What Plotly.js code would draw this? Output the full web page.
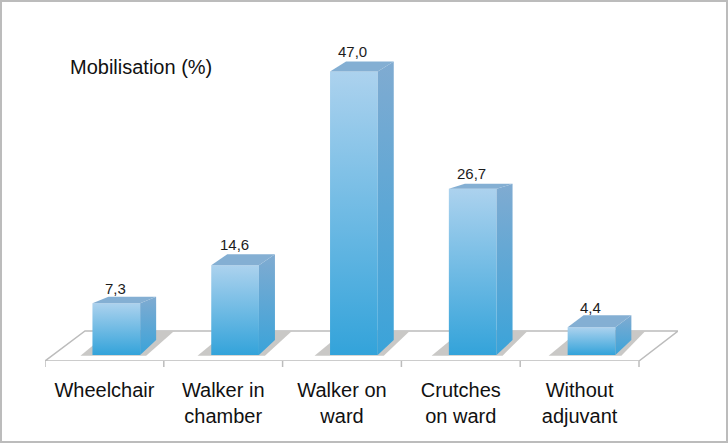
<!DOCTYPE html>
<html>
<head>
<meta charset="utf-8">
<script src="https://cdn.plot.ly/plotly-3.0.1.min.js"></script>
<style>
html,body{margin:0;padding:0;background:#fff;overflow:hidden}
#chart{width:728px;height:443px}
#frame{position:absolute;left:0;top:0;width:728px;height:443px;box-sizing:border-box;border:2px solid #bcbcbc;pointer-events:none}
</style>
</head>
<body>
<div id="chart"></div>
<div id="frame"></div>
<script>
// Data
const categories = ['Wheelchair', 'Walker in<br>chamber', 'Walker on<br>ward', 'Crutches<br>on ward', 'Without<br>adjuvant'];
const barHeights = [8.6, 14.9, 47.1, 27.6, 4.6];
const valueLabels = ['7,3', '14,6', '47,0', '26,7', '4,4'];

// Layout scale
const W = 728, H = 443;
const plotL = 45, plotR = 678, axisY = 361;
const catPx = 118.8;
const pxPerUnit = 6.02;
const baseY = 355;
const yMin = (baseY - axisY) / pxPerUnit;
const yMax = baseY / pxPerUnit;
const xMin = -0.5, xMax = xMin + (plotR - plotL) / catPx;
const ux = px => px / catPx;
const uy = px => px / pxPerUnit;

// Bar geometry (pixels)
const barW = 47.7, barOff = 11.9, depthX = 16, floorRise = 15;
const topRise = [6.5, 11, 10, 5, 12];
const offsetUnits = ux(barOff - barW / 2);

const traces = [];
const floorPath = (px) => {
  const X = p => xMin + (p - plotL) / catPx;
  const Y = p => (baseY - p) / pxPerUnit;
  return 'M' + px.map(p => X(p[0]) + ',' + Y(p[1])).join('L') + 'Z';
};
const shapes = [{
  type: 'path', xref: 'x', yref: 'y', layer: 'below',
  path: floorPath([[45, 361], [85, 331], [678, 331], [639, 361]]),
  fillcolor: '#ffffff', line: {color: '#bcbcbc', width: 1.5}
}];

categories.forEach((c, i) => {
  const left = i + offsetUnits, right = left + ux(barW);
  const bx = ux(depthX);
  const v = barHeights[i], tr = uy(topRise[i]), fr = uy(floorRise);
  // shadow on the floor
  const sx = -12 - 1.75 * i;
  shapes.push({
    type: 'path', xref: 'x', yref: 'y', layer: 'below', line: {width: 0},
    fillcolor: '#c9c8c6',
    path: 'M' + (left + ux(sx)) + ',' + uy(-0.7) +
          'L' + (right + ux(6)) + ',' + uy(-0.7) +
          'L' + (right + ux(34 - 1.0 * i)) + ',' + uy(24) +
          'L' + (left + ux(sx + 30)) + ',' + uy(24) + 'Z'
  });
  // side face
  traces.push({
    type: 'scatter', mode: 'none', fill: 'toself', hoverinfo: 'skip', showlegend: false,
    x: [right, right + bx, right + bx, right],
    y: [v, v + tr, fr, 0],
    fillgradient: {type: 'vertical', colorscale: [[0, '#3aa3d9'], [1, '#80abd1']]}
  });
  // top face
  traces.push({
    type: 'scatter', mode: 'none', fill: 'toself', hoverinfo: 'skip', showlegend: false,
    x: [left, left + bx, right + bx, right],
    y: [v, v + tr, v + tr, v],
    fillcolor: '#84afd3'
  });
});

// Front faces
traces.unshift({
  type: 'bar',
  x: categories.map((c, i) => i),
  y: barHeights,
  width: ux(barW),
  offset: offsetUnits,
  marker: {color: '#6fb4e0', line: {width: 0}},
  hoverinfo: 'skip',
  showlegend: false
});

const labelGap = [8, 9, 9, 10, 7];
const annotations = valueLabels.map((t, i) => ({
  x: i + offsetUnits + ux(barW / 2) - ux(1),
  y: barHeights[i] + uy(topRise[i]),
  yanchor: 'bottom', xanchor: 'center',
  yshift: labelGap[i] - 10, showarrow: false, text: t,
  font: {family: 'Liberation Sans, Arial, sans-serif', size: 15, color: '#1c1c1c'}
}));
annotations.push({
  xref: 'paper', yref: 'paper', x: (68 - plotL) / (plotR - plotL), y: (axisY - 67) / axisY,
  xanchor: 'left', yanchor: 'middle', showarrow: false, text: 'Mobilisation (%)',
  font: {family: 'Liberation Sans, Arial, sans-serif', size: 20, color: '#111'}
});

const layout = {
  width: W, height: H,
  margin: {l: plotL, r: W - plotR, t: 0, b: H - axisY, pad: 0},
  paper_bgcolor: '#ffffff', plot_bgcolor: 'rgba(0,0,0,0)',
  showlegend: false,
  xaxis: {
    type: 'linear', range: [xMin, xMax], tickmode: 'array',
    tickvals: [0, 1, 2, 3, 4], ticktext: categories,
    showgrid: false, zeroline: false, showline: false, ticks: '',
    ticklabelstandoff: 15,
    tickfont: {family: 'Liberation Sans, Arial, sans-serif', size: 20, color: '#111'}
  },
  yaxis: {range: [yMin, yMax], visible: false, fixedrange: true},
  shapes, annotations
};
// Tick marks at category boundaries
[0, 1, 2, 3, 4, 5].forEach(i => {
  layout.shapes.push({
    type: 'line', xref: 'x', yref: 'paper', layer: 'above',
    x0: i - 0.5, x1: i - 0.5, y0: 0, y1: -6 / axisY,
    line: {color: '#bcbcbc', width: 1.5}
  });
});

Plotly.newPlot('chart', traces, layout, {displayModeBar: false, staticPlot: true}).then(gd => {
  const svg = gd.querySelector('svg.main-svg');
  const ns = 'http://www.w3.org/2000/svg';
  const defs = svg.querySelector('defs');
  const g = document.createElementNS(ns, 'linearGradient');
  g.setAttribute('id', 'frontGrad');
  g.setAttribute('x1', '0'); g.setAttribute('y1', '0');
  g.setAttribute('x2', '0'); g.setAttribute('y2', '1');
  [['0', '#acd2ee'], ['1', '#33a3da']].forEach(s => {
    const st = document.createElementNS(ns, 'stop');
    st.setAttribute('offset', s[0]); st.setAttribute('stop-color', s[1]);
    g.appendChild(st);
  });
  defs.appendChild(g);
  gd.querySelectorAll('.bars .point path').forEach(p => { p.style.fill = 'url(#frontGrad)'; });
});
</script>
</body>
</html>
